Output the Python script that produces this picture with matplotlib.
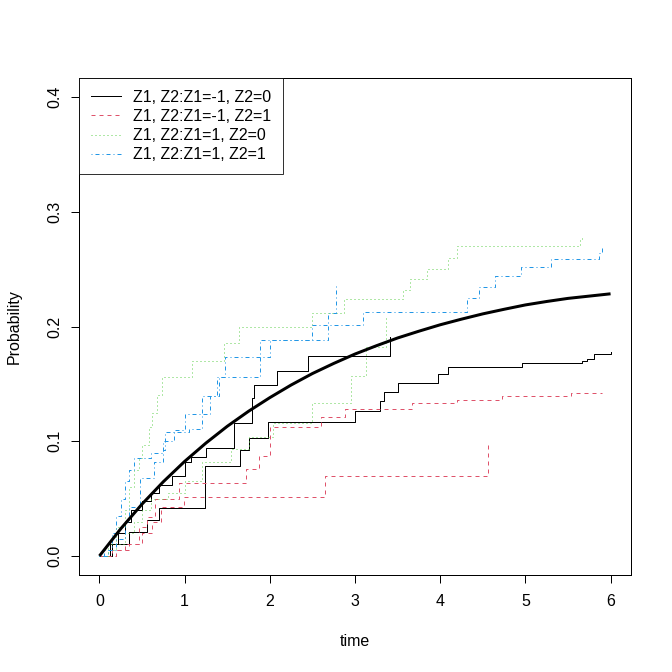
import matplotlib
matplotlib.use("Agg")
import matplotlib.pyplot as plt
from matplotlib.lines import Line2D

plt.rcParams['font.family'] = ['Liberation Sans', 'DejaVu Sans']

# ---- data ----
black_a_t = [0, 0.12, 0.22, 0.30, 0.37, 0.50, 0.60, 0.70, 0.85, 1.00, 1.07, 1.25, 1.58, 1.79, 1.82, 2.09, 2.45, 3.41]
black_a_p = [0, 0.010, 0.020, 0.030, 0.040, 0.048, 0.055, 0.062, 0.070, 0.082, 0.086, 0.094, 0.116, 0.138, 0.149, 0.161, 0.174, 0.191]

black_b_t = [0, 0.15, 0.35, 0.56, 0.70, 1.24, 1.65, 1.76, 1.98, 3.00, 3.29, 3.34, 3.50, 3.98, 4.09, 4.96, 5.67, 5.72, 5.81, 6.00]
black_b_p = [0, 0.010, 0.021, 0.031, 0.042, 0.078, 0.092, 0.103, 0.117, 0.126, 0.135, 0.143, 0.151, 0.159, 0.165, 0.168, 0.170, 0.172, 0.176, 0.178]

red_a_t = [0, 0.20, 0.35, 0.50, 0.62, 0.72, 0.99, 2.65, 4.56]
red_a_p = [0, 0.005, 0.010, 0.020, 0.030, 0.043, 0.051, 0.070, 0.099]

red_b_t = [0, 0.15, 0.30, 0.47, 0.56, 0.65, 0.93, 1.72, 1.87, 2.00, 2.60, 2.88, 3.67, 4.20, 4.73, 5.53, 5.90]
red_b_p = [0, 0.005, 0.010, 0.025, 0.034, 0.050, 0.064, 0.076, 0.087, 0.112, 0.121, 0.128, 0.133, 0.136, 0.139, 0.142, 0.142]

green_a_t = [0, 0.10, 0.20, 0.30, 0.35, 0.40, 0.47, 0.50, 0.58, 0.62, 0.67, 0.74, 1.09, 1.46, 1.64, 2.50, 2.87, 3.56, 3.65, 3.84, 4.09, 4.20, 5.64, 5.67]
green_a_p = [0, 0.010, 0.025, 0.040, 0.060, 0.075, 0.085, 0.097, 0.112, 0.125, 0.140, 0.156, 0.170, 0.186, 0.200, 0.212, 0.224, 0.232, 0.241, 0.250, 0.260, 0.270, 0.276, 0.280]

green_b_t = [0, 0.10, 0.20, 0.30, 0.40, 0.50, 0.60, 0.80, 1.00, 1.20, 1.55, 1.76, 2.04, 2.49, 2.95, 3.13, 3.36]
green_b_p = [0, 0.005, 0.010, 0.020, 0.030, 0.040, 0.050, 0.055, 0.065, 0.082, 0.093, 0.104, 0.116, 0.133, 0.157, 0.182, 0.210]

blue_a_t = [0, 0.05, 0.15, 0.20, 0.25, 0.30, 0.35, 0.40, 0.60, 0.75, 0.87, 1.00, 1.20, 1.38, 1.47, 1.88, 2.49, 3.09, 4.32, 4.45, 4.64, 4.95, 5.30, 5.86, 5.90]
blue_a_p = [0, 0.005, 0.020, 0.035, 0.050, 0.065, 0.075, 0.085, 0.090, 0.100, 0.110, 0.124, 0.139, 0.156, 0.173, 0.188, 0.201, 0.213, 0.225, 0.234, 0.244, 0.252, 0.259, 0.264, 0.269]

blue_b_t = [0, 0.10, 0.20, 0.30, 0.35, 0.48, 0.64, 0.75, 0.77, 1.05, 1.20, 1.30, 1.40, 1.88, 2.00, 2.68, 2.78]
blue_b_p = [0, 0.005, 0.015, 0.030, 0.043, 0.068, 0.082, 0.092, 0.108, 0.111, 0.124, 0.139, 0.156, 0.173, 0.188, 0.212, 0.236]

smooth_t = [0, 0.25, 0.5, 0.75, 1.0, 1.25, 1.5, 1.75, 2.0, 2.25, 2.5, 2.75, 3.0,
            3.25, 3.5, 3.75, 4.0, 4.25, 4.5, 4.75, 5.0, 5.25, 5.5, 5.75, 6.0]
smooth_p = [0, 0.0237, 0.0452, 0.0647, 0.0824, 0.0984, 0.113, 0.1261, 0.138, 0.149, 0.159, 0.1678, 0.176,
            0.1832, 0.190, 0.1959, 0.2015, 0.2064, 0.211, 0.2150, 0.2188, 0.2218, 0.2245, 0.2265, 0.2285]

labels = ["Z1, Z2:Z1=-1, Z2=0", "Z1, Z2:Z1=-1, Z2=1", "Z1, Z2:Z1=1, Z2=0", "Z1, Z2:Z1=1, Z2=1"]
colors = ["#000000", "#DF536B", "#61D04F", "#2297E6"]

# ---- figure ----
fig = plt.figure(figsize=(6.72, 6.72), dpi=100)
ax = fig.add_axes([79/672, 97/672, 552/672, 497/672])

px = 0.72  # one pixel in points
lw = 1.0 * px
styles = [
    dict(linestyle='-'),
    dict(linestyle=(0, (4, 4))),
    dict(linestyle=(0, (1, 3))),
    dict(linestyle=(0, (1, 3, 4, 3))),
]

curves = [
    (black_a_t, black_a_p, 0), (black_b_t, black_b_p, 0),
    (red_a_t, red_a_p, 1), (red_b_t, red_b_p, 1),
    (green_a_t, green_a_p, 2), (green_b_t, green_b_p, 2),
    (blue_a_t, blue_a_p, 3), (blue_b_t, blue_b_p, 3),
]
for t, p, k in curves:
    ax.plot(t, p, drawstyle='steps-post', color=colors[k], lw=lw, **styles[k])

ax.plot(smooth_t, smooth_p, color='black', lw=3.0 * px, solid_capstyle='butt')

ax.set_xlim(-0.24, 6.24)
ax.set_ylim(-0.0166, 0.4166)
ax.set_xticks([0, 1, 2, 3, 4, 5, 6])
ax.set_yticks([0.0, 0.1, 0.2, 0.3, 0.4])
ax.set_yticklabels(["0.0", "0.1", "0.2", "0.3", "0.4"], rotation=90, va='center')
fs = 16 * px
ax.tick_params(axis='both', direction='out', length=8 * px, width=lw, labelsize=fs, color='black')
ax.tick_params(axis='x', pad=8)
ax.tick_params(axis='y', pad=6)
for s in ax.spines.values():
    s.set_linewidth(lw)
ax.set_xlabel("time", fontsize=fs, labelpad=18)
ax.set_ylabel("Probability", fontsize=fs, labelpad=19)

handles = [Line2D([0], [0], color=colors[k], lw=lw, **styles[k]) for k in range(4)]
leg = ax.legend(handles, labels, loc='upper left', bbox_to_anchor=(0, 1), borderaxespad=0,
                fontsize=fs, frameon=True, fancybox=False, handlelength=1.9, handletextpad=0.75,
                labelspacing=0.27, borderpad=0.72)
leg.get_frame().set_edgecolor('black')
leg.get_frame().set_linewidth(lw)

fig.savefig("out.png", dpi=100)
